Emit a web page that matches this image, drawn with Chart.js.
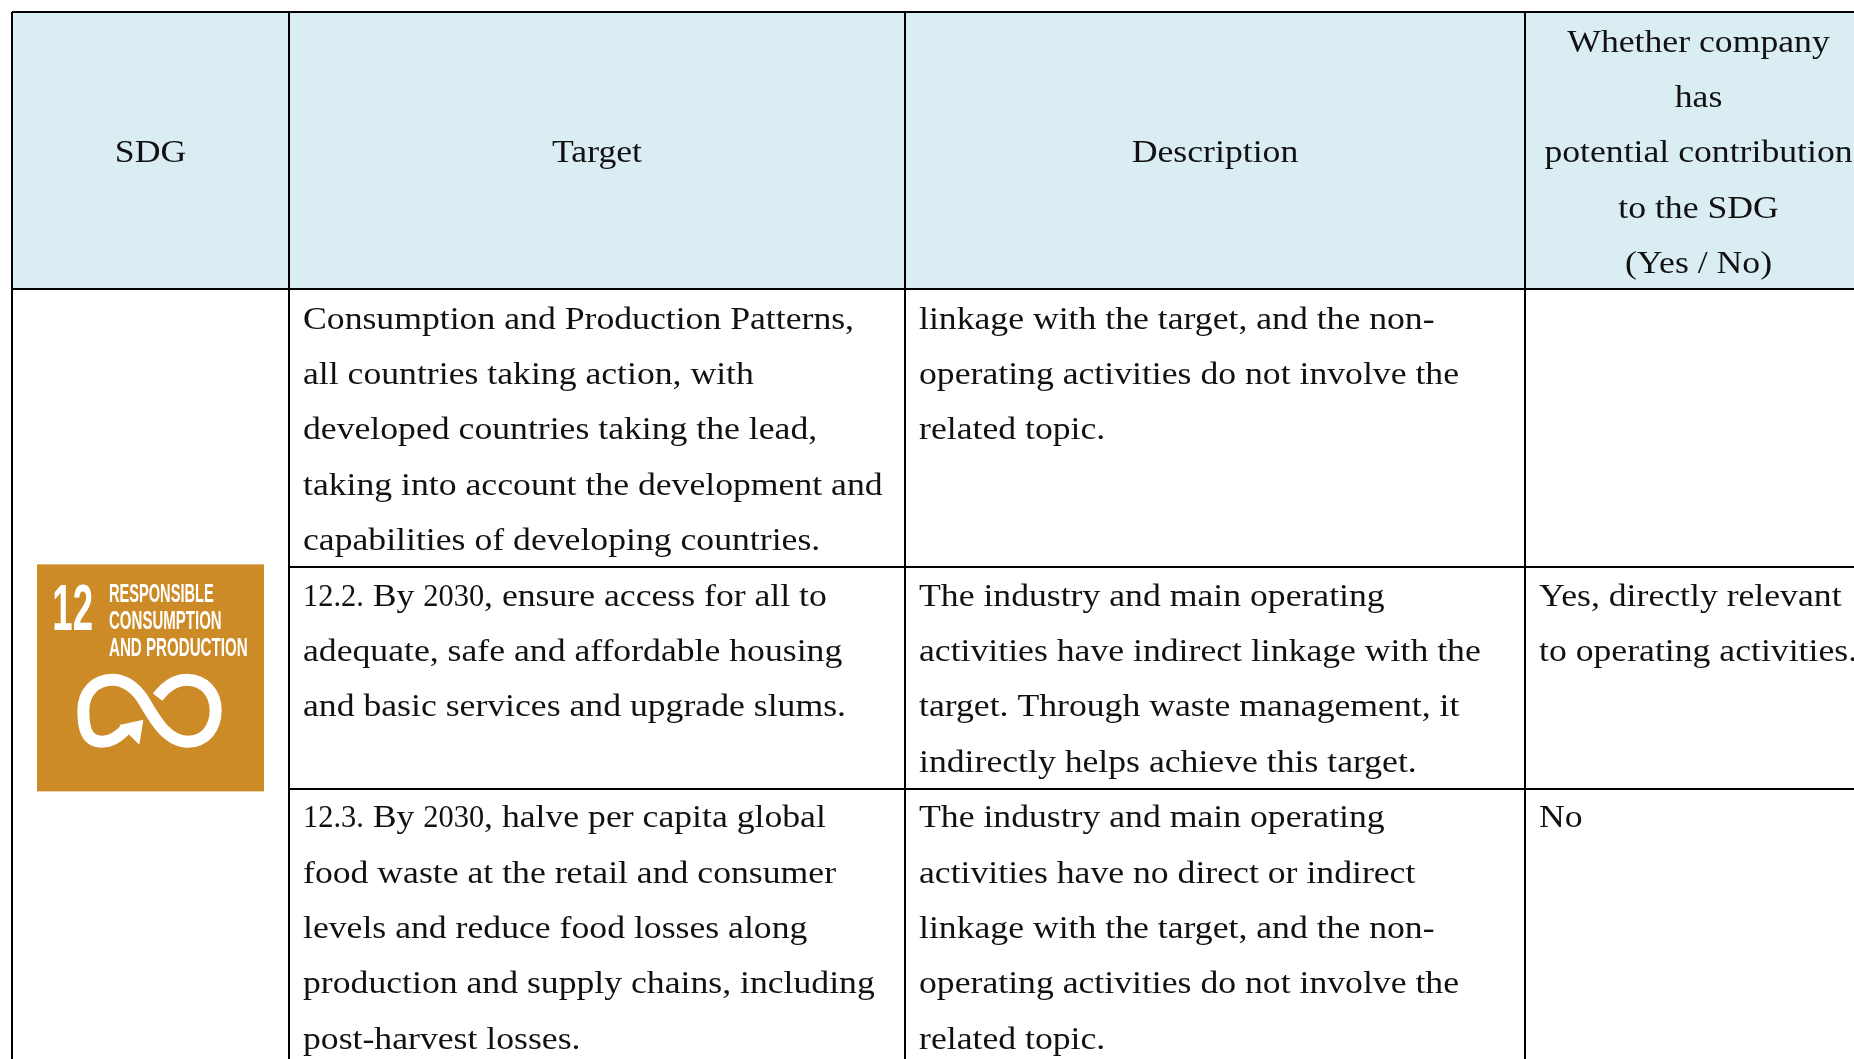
<!DOCTYPE html>
<html>
<head>
<meta charset="utf-8">
<title>SDG 12 table</title>
<script src="https://cdn.jsdelivr.net/npm/chart.js@4"></script>
<style>
  html, body { margin: 0; background: #fff; }
  canvas { display: block; }
</style>
</head>
<body>
<canvas id="table" width="1854" height="1059"></canvas>
<script>
// x axis is in px-like units from the table's left edge, y axis counts text lines from its top
const columnEdges = [0, 277, 893, 1513, 1860];
const rowEdges = [0, 5, 10, 14, 19];
const rowRules = [10.0186, 14.026];
const visibleWidth = 1842;
const visibleLines = 18.9;

const headers = [
  ['SDG'],
  ['Target'],
  ['Description'],
  ['Whether company', 'has', 'potential contribution', 'to the SDG', '(Yes / No)']
];

const targetCells = [
  ['Consumption and Production Patterns,', 'all countries taking action, with', 'developed countries taking the lead,', 'taking into account the development and', 'capabilities of developing countries.'],
  ['12.2. By 2030, ensure access for all to', 'adequate, safe and affordable housing', 'and basic services and upgrade slums.'],
  ['12.3. By 2030, halve per capita global', 'food waste at the retail and consumer', 'levels and reduce food losses along', 'production and supply chains, including', 'post-harvest losses.']
];

const descriptionCells = [
  ['linkage with the target, and the non-', 'operating activities do not involve the', 'related topic.'],
  ['The industry and main operating', 'activities have indirect linkage with the', 'target. Through waste management, it', 'indirectly helps achieve this target.'],
  ['The industry and main operating', 'activities have no direct or indirect', 'linkage with the target, and the non-', 'operating activities do not involve the', 'related topic.']
];

const relevanceCells = [
  [],
  ['Yes, directly relevant', 'to operating activities.'],
  ['No']
];

const logoNumber = '12';
const logoLines = ['RESPONSIBLE', 'CONSUMPTION', 'AND PRODUCTION'];

const bodyFont = '32px "Liberation Serif", serif';
const textColor = '#111111';
const ruleColor = '#000000';
const textStretch = 1.115;
const digitStretch = 0.95; // the reference face has narrow numerals
const cellPadding = 14;
const baselineNudge = 3.5;

const drawText = (ctx, text, x, y, align) => {
  ctx.save();
  ctx.font = bodyFont;
  ctx.fillStyle = textColor;
  ctx.textAlign = 'left';
  ctx.textBaseline = 'middle';

  const runs = text.split(/(\d[\d.]*)/).filter(Boolean).map((run) => ({
    run,
    stretch: /^\d/.test(run) ? digitStretch : textStretch
  }));
  const total = runs.reduce((sum, r) => sum + ctx.measureText(r.run).width * r.stretch, 0);
  let cursor = align === 'center' ? x - total / 2 : x;

  runs.forEach(({ run, stretch }) => {
    ctx.save();
    ctx.translate(cursor, y + baselineNudge);
    ctx.scale(stretch, 1);
    ctx.fillText(run, 0, 0);
    ctx.restore();
    cursor += ctx.measureText(run).width * stretch;
  });
  ctx.restore();
};

const tableTextPlugin = {
  id: 'tableText',
  afterDraw(chart) {
    const { ctx, scales } = chart;
    const { x, y } = scales;

    headers.forEach((lines, col) => {
      const center = x.getPixelForValue((columnEdges[col] + columnEdges[col + 1]) / 2);
      const top = (rowEdges[1] - lines.length) / 2;
      lines.forEach((line, i) => {
        drawText(ctx, line, center, y.getPixelForValue(top + i + 0.5), 'center');
      });
    });

    [targetCells, descriptionCells, relevanceCells].forEach((cells, c) => {
      const left = x.getPixelForValue(columnEdges[c + 1] + cellPadding);
      cells.forEach((lines, row) => {
        lines.forEach((line, i) => {
          drawText(ctx, line, left, y.getPixelForValue(rowEdges[row + 1] + i + 0.5), 'left');
        });
      });
    });
  }
};

// the SDG 12 icon, drawn in a 681 unit square
const sdgIconPlugin = {
  id: 'sdgIcon',
  afterDraw(chart) {
    const { ctx, scales } = chart;
    const size = 227;
    const left = scales.x.getPixelForValue(columnEdges[1] / 2) - size / 2;
    const top = scales.y.getPixelForValue(12.02) - size / 2;

    ctx.save();
    ctx.translate(left, top);
    ctx.scale(size / 681, size / 681);
    ctx.fillStyle = '#cd8b27';
    ctx.fillRect(0, 0, 681, 681);

    ctx.fillStyle = '#ffffff';
    ctx.textBaseline = 'alphabetic';
    ctx.textAlign = 'left';
    ctx.font = 'bold 194px "Liberation Sans", sans-serif';
    ctx.fillText(logoNumber, 46, 196, 122);
    ctx.font = 'bold 76px "Liberation Sans", sans-serif';
    ctx.fillText(logoLines[0], 216, 113, 314);
    ctx.fillText(logoLines[1], 216, 194, 338);
    ctx.fillText(logoLines[2], 216, 276, 416);

    ctx.strokeStyle = '#ffffff';
    ctx.lineWidth = 36;
    ctx.lineCap = 'butt';
    ctx.beginPath();
    ctx.moveTo(268, 492);
    ctx.bezierCurveTo(245, 518, 222, 532, 195, 532);
    ctx.bezierCurveTo(145, 532, 139, 485, 139, 438);
    ctx.bezierCurveTo(139, 385, 175, 346, 225, 346);
    ctx.bezierCurveTo(265, 346, 295, 370, 318, 405);
    ctx.bezierCurveTo(345, 450, 385, 532, 452, 532);
    ctx.bezierCurveTo(505, 532, 536, 490, 536, 438);
    ctx.bezierCurveTo(536, 385, 500, 346, 450, 346);
    ctx.bezierCurveTo(415, 346, 385, 368, 362, 398);
    ctx.stroke();

    ctx.beginPath();
    ctx.moveTo(247, 482);
    ctx.lineTo(319, 466);
    ctx.lineTo(307, 541);
    ctx.closePath();
    ctx.fill();
    ctx.restore();
  }
};

const hline = (value, from) => ({
  type: 'line',
  data: [{ x: from, y: value }, { x: visibleWidth, y: value }],
  borderColor: ruleColor,
  borderWidth: 2,
  pointRadius: 0,
  fill: false,
  clip: false
});

new Chart(document.getElementById('table'), {
  type: 'line',
  data: {
    datasets: [
      {
        // header band
        data: [{ x: 0, y: rowEdges[0] }, { x: visibleWidth, y: rowEdges[0] }],
        borderWidth: 0,
        pointRadius: 0,
        backgroundColor: '#daedf3',
        fill: { value: rowEdges[1] }
      },
      hline(rowRules[0], columnEdges[1]),
      hline(rowRules[1], columnEdges[1])
    ]
  },
  options: {
    responsive: false,
    animation: false,
    events: [],
    layout: { padding: { top: 12, left: 12, right: 0, bottom: 0 } },
    plugins: { legend: { display: false }, tooltip: { enabled: false } },
    scales: {
      x: {
        type: 'linear',
        min: 0,
        max: visibleWidth,
        afterBuildTicks: (scale) => {
          scale.ticks = columnEdges.slice(0, 4).map((value) => ({ value }));
        },
        ticks: { display: false },
        border: { display: false },
        grid: { color: ruleColor, lineWidth: 2, drawTicks: false, z: 1 }
      },
      y: {
        type: 'linear',
        reverse: true,
        min: 0,
        max: visibleLines,
        afterBuildTicks: (scale) => {
          scale.ticks = rowEdges.slice(0, 2).map((value) => ({ value }));
        },
        ticks: { display: false },
        border: { display: false },
        grid: { color: ruleColor, lineWidth: 2, drawTicks: false, z: 1 }
      }
    }
  },
  plugins: [tableTextPlugin, sdgIconPlugin]
});
</script>
</body>
</html>
